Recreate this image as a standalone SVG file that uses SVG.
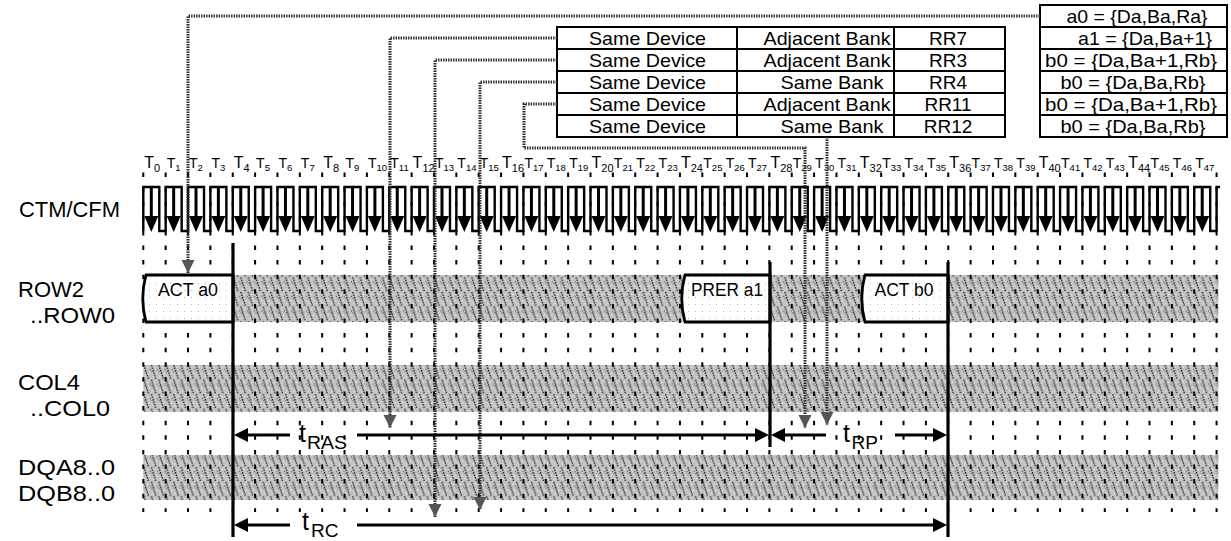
<svg xmlns="http://www.w3.org/2000/svg" xmlns:xlink="http://www.w3.org/1999/xlink" width="1231" height="541" viewBox="0 0 1231 541">
<style>
text{font-family:"Liberation Sans",Arial,sans-serif;fill:#000}
.tb{font-size:16px}.ts{font-size:14px}.s1{font-size:11px}.s2{font-size:9.5px}
.lab{font-size:22px}
.tt{font-size:19px}
.bt{font-size:18px}
.ctr{text-anchor:middle}
.grid{fill:none;stroke:#000;stroke-width:2}
.tick{fill:none;stroke:#000;stroke-width:2;stroke-dasharray:4.5 10.1}
.bold{stroke:#000;stroke-width:3.2;fill:none}
.conn{fill:none;stroke:#2a2a2a;stroke-width:3;stroke-dasharray:1.4 1.1}
.tline{stroke:#000;stroke-width:3.2}
.box{fill:url(#lt);stroke:#000;stroke-width:2.8}
</style>
<defs>
<pattern id="st" patternUnits="userSpaceOnUse" x="143.3" y="0" width="7.453" height="14.6">
<rect width="7.453" height="14.6" fill="#c2c2c2"/>
<path d="M0.6,0 L5.4,14.6" stroke="#111" stroke-width="1.3" stroke-dasharray="1.4 1.2"/>
<rect x="3.5" y="2" width="1" height="1" fill="#fff"/>
<rect x="5.5" y="8" width="1" height="1" fill="#fff"/>
<rect x="6.5" y="4" width="1" height="1" fill="#444"/>
<rect x="1.5" y="11" width="1" height="1" fill="#fff"/>
<rect x="0.5" y="6" width="1" height="1" fill="#555"/>
</pattern>
<pattern id="lt" patternUnits="userSpaceOnUse" width="7" height="7">
<rect width="7" height="7" fill="#fff"/>
<rect x="2" y="3" width="1" height="1" fill="#bbb"/>
</pattern>
<marker id="dh" markerUnits="userSpaceOnUse" markerWidth="14" markerHeight="14" refX="13" refY="6.5" orient="auto">
<path d="M0,0 L13,6.5 L0,13 Z" fill="#555"/>
</marker>
<g id="ca"><line x1="8" y1="187" x2="8" y2="218" stroke="#000" stroke-width="3"/><path d="M1,216 L15,216 L8,232 Z" fill="#000"/></g>
</defs>
<rect width="1231" height="541" fill="#fff"/>

<g id="labels">
<text class="lab" x="19" y="217" textLength="101" lengthAdjust="spacingAndGlyphs">CTM/CFM</text>
<text class="lab" x="18" y="297" textLength="66" lengthAdjust="spacingAndGlyphs">ROW2</text>
<text class="lab" x="30" y="323" textLength="85" lengthAdjust="spacingAndGlyphs">..ROW0</text>
<text class="lab" x="18" y="390" textLength="62" lengthAdjust="spacingAndGlyphs">COL4</text>
<text class="lab" x="30" y="416" textLength="80" lengthAdjust="spacingAndGlyphs">..COL0</text>
<text class="lab" x="18" y="475" textLength="97" lengthAdjust="spacingAndGlyphs">DQA8..0</text>
<text class="lab" x="18" y="501" textLength="97" lengthAdjust="spacingAndGlyphs">DQB8..0</text>
</g>

<g id="time-labels">
<text class="tb" x="144.3" y="168">T<tspan class="s1" dy="3.7">0</tspan></text>
<text class="ts" x="166.66" y="168">T<tspan class="s2" dy="3">1</tspan></text>
<text class="ts" x="189.02" y="168">T<tspan class="s2" dy="3">2</tspan></text>
<text class="ts" x="211.38" y="168">T<tspan class="s2" dy="3">3</tspan></text>
<text class="tb" x="233.74" y="168">T<tspan class="s1" dy="3.7">4</tspan></text>
<text class="ts" x="256.1" y="168">T<tspan class="s2" dy="3">5</tspan></text>
<text class="ts" x="278.46" y="168">T<tspan class="s2" dy="3">6</tspan></text>
<text class="ts" x="300.82" y="168">T<tspan class="s2" dy="3">7</tspan></text>
<text class="tb" x="323.18" y="168">T<tspan class="s1" dy="3.7">8</tspan></text>
<text class="ts" x="345.54" y="168">T<tspan class="s2" dy="3">9</tspan></text>
<text class="ts" x="367.9" y="168">T<tspan class="s2" dy="3">10</tspan></text>
<text class="ts" x="390.26" y="168">T<tspan class="s2" dy="3">11</tspan></text>
<text class="tb" x="412.62" y="168">T<tspan class="s1" dy="3.7">12</tspan></text>
<text class="ts" x="434.98" y="168">T<tspan class="s2" dy="3">13</tspan></text>
<text class="ts" x="457.34" y="168">T<tspan class="s2" dy="3">14</tspan></text>
<text class="ts" x="479.7" y="168">T<tspan class="s2" dy="3">15</tspan></text>
<text class="tb" x="502.06" y="168">T<tspan class="s1" dy="3.7">16</tspan></text>
<text class="ts" x="524.42" y="168">T<tspan class="s2" dy="3">17</tspan></text>
<text class="ts" x="546.78" y="168">T<tspan class="s2" dy="3">18</tspan></text>
<text class="ts" x="569.14" y="168">T<tspan class="s2" dy="3">19</tspan></text>
<text class="tb" x="591.5" y="168">T<tspan class="s1" dy="3.7">20</tspan></text>
<text class="ts" x="613.86" y="168">T<tspan class="s2" dy="3">21</tspan></text>
<text class="ts" x="636.22" y="168">T<tspan class="s2" dy="3">22</tspan></text>
<text class="ts" x="658.58" y="168">T<tspan class="s2" dy="3">23</tspan></text>
<text class="tb" x="680.94" y="168">T<tspan class="s1" dy="3.7">24</tspan></text>
<text class="ts" x="703.3" y="168">T<tspan class="s2" dy="3">25</tspan></text>
<text class="ts" x="725.66" y="168">T<tspan class="s2" dy="3">26</tspan></text>
<text class="ts" x="748.02" y="168">T<tspan class="s2" dy="3">27</tspan></text>
<text class="tb" x="770.38" y="168">T<tspan class="s1" dy="3.7">28</tspan></text>
<text class="ts" x="792.74" y="168">T<tspan class="s2" dy="3">29</tspan></text>
<text class="ts" x="815.1" y="168">T<tspan class="s2" dy="3">30</tspan></text>
<text class="ts" x="837.46" y="168">T<tspan class="s2" dy="3">31</tspan></text>
<text class="tb" x="859.82" y="168">T<tspan class="s1" dy="3.7">32</tspan></text>
<text class="ts" x="882.18" y="168">T<tspan class="s2" dy="3">33</tspan></text>
<text class="ts" x="904.54" y="168">T<tspan class="s2" dy="3">34</tspan></text>
<text class="ts" x="926.9" y="168">T<tspan class="s2" dy="3">35</tspan></text>
<text class="tb" x="949.26" y="168">T<tspan class="s1" dy="3.7">36</tspan></text>
<text class="ts" x="971.62" y="168">T<tspan class="s2" dy="3">37</tspan></text>
<text class="ts" x="993.98" y="168">T<tspan class="s2" dy="3">38</tspan></text>
<text class="ts" x="1016.34" y="168">T<tspan class="s2" dy="3">39</tspan></text>
<text class="tb" x="1038.7" y="168">T<tspan class="s1" dy="3.7">40</tspan></text>
<text class="ts" x="1061.06" y="168">T<tspan class="s2" dy="3">41</tspan></text>
<text class="ts" x="1083.42" y="168">T<tspan class="s2" dy="3">42</tspan></text>
<text class="ts" x="1105.78" y="168">T<tspan class="s2" dy="3">43</tspan></text>
<text class="tb" x="1128.14" y="168">T<tspan class="s1" dy="3.7">44</tspan></text>
<text class="ts" x="1150.5" y="168">T<tspan class="s2" dy="3">45</tspan></text>
<text class="ts" x="1172.86" y="168">T<tspan class="s2" dy="3">46</tspan></text>
<text class="ts" x="1195.22" y="168">T<tspan class="s2" dy="3">47</tspan></text>
</g>

<g id="row-band"><rect x="143.3" y="275" width="1075" height="47" fill="url(#st)"/></g>
<g id="col-band"><rect x="143.3" y="365" width="1075" height="47" fill="url(#st)"/></g>
<g id="dq-band"><rect x="143.3" y="455" width="1075" height="45" fill="url(#st)"/></g>

<g id="ticks">
<path class="tick" d="M143.3,172.5V512M165.66,172.5V512M188.02,172.5V512M210.38,172.5V512M232.74,172.5V512M255.1,172.5V512M277.46,172.5V512M299.82,172.5V512M322.18,172.5V512M344.54,172.5V512M366.9,172.5V512M389.26,172.5V512M411.62,172.5V512M433.98,172.5V512M456.34,172.5V512M478.7,172.5V512M501.06,172.5V512M523.42,172.5V512M545.78,172.5V512M568.14,172.5V512M590.5,172.5V512M612.86,172.5V512M635.22,172.5V512M657.58,172.5V512M679.94,172.5V512M702.3,172.5V512M724.66,172.5V512M747.02,172.5V512M769.38,172.5V512M791.74,172.5V512M814.1,172.5V512M836.46,172.5V512M858.82,172.5V512M881.18,172.5V512M903.54,172.5V512M925.9,172.5V512M948.26,172.5V512M970.62,172.5V512M992.98,172.5V512M1015.34,172.5V512M1037.7,172.5V512M1060.06,172.5V512M1082.42,172.5V512M1104.78,172.5V512M1127.14,172.5V512M1149.5,172.5V512M1171.86,172.5V512M1194.22,172.5V512M1216.58,172.5V512"/>
</g>

<g id="clock">
<path fill="none" stroke="#000" stroke-width="2.4" d="M143.3,231 V187 H159.3 V231 H165.66 V187 H181.66 V231 H188.02 V187 H204.02 V231 H210.38 V187 H226.38 V231 H232.74 V187 H248.74 V231 H255.1 V187 H271.1 V231 H277.46 V187 H293.46 V231 H299.82 V187 H315.82 V231 H322.18 V187 H338.18 V231 H344.54 V187 H360.54 V231 H366.9 V187 H382.9 V231 H389.26 V187 H405.26 V231 H411.62 V187 H427.62 V231 H433.98 V187 H449.98 V231 H456.34 V187 H472.34 V231 H478.7 V187 H494.7 V231 H501.06 V187 H517.06 V231 H523.42 V187 H539.42 V231 H545.78 V187 H561.78 V231 H568.14 V187 H584.14 V231 H590.5 V187 H606.5 V231 H612.86 V187 H628.86 V231 H635.22 V187 H651.22 V231 H657.58 V187 H673.58 V231 H679.94 V187 H695.94 V231 H702.3 V187 H718.3 V231 H724.66 V187 H740.66 V231 H747.02 V187 H763.02 V231 H769.38 V187 H785.38 V231 H791.74 V187 H807.74 V231 H814.1 V187 H830.1 V231 H836.46 V187 H852.46 V231 H858.82 V187 H874.82 V231 H881.18 V187 H897.18 V231 H903.54 V187 H919.54 V231 H925.9 V187 H941.9 V231 H948.26 V187 H964.26 V231 H970.62 V187 H986.62 V231 H992.98 V187 H1008.98 V231 H1015.34 V187 H1031.34 V231 H1037.7 V187 H1053.7 V231 H1060.06 V187 H1076.06 V231 H1082.42 V187 H1098.42 V231 H1104.78 V187 H1120.78 V231 H1127.14 V187 H1143.14 V231 H1149.5 V187 H1165.5 V231 H1171.86 V187 H1187.86 V231 H1194.22 V187 H1210.22 V231 H1216.58 V187 H1220"/>
<use xlink:href="#ca" x="143.3"/><use xlink:href="#ca" x="165.66"/><use xlink:href="#ca" x="188.02"/><use xlink:href="#ca" x="210.38"/><use xlink:href="#ca" x="232.74"/><use xlink:href="#ca" x="255.1"/><use xlink:href="#ca" x="277.46"/><use xlink:href="#ca" x="299.82"/><use xlink:href="#ca" x="322.18"/><use xlink:href="#ca" x="344.54"/><use xlink:href="#ca" x="366.9"/><use xlink:href="#ca" x="389.26"/><use xlink:href="#ca" x="411.62"/><use xlink:href="#ca" x="433.98"/><use xlink:href="#ca" x="456.34"/><use xlink:href="#ca" x="478.7"/><use xlink:href="#ca" x="501.06"/><use xlink:href="#ca" x="523.42"/><use xlink:href="#ca" x="545.78"/><use xlink:href="#ca" x="568.14"/><use xlink:href="#ca" x="590.5"/><use xlink:href="#ca" x="612.86"/><use xlink:href="#ca" x="635.22"/><use xlink:href="#ca" x="657.58"/><use xlink:href="#ca" x="679.94"/><use xlink:href="#ca" x="702.3"/><use xlink:href="#ca" x="724.66"/><use xlink:href="#ca" x="747.02"/><use xlink:href="#ca" x="769.38"/><use xlink:href="#ca" x="791.74"/><use xlink:href="#ca" x="814.1"/><use xlink:href="#ca" x="836.46"/><use xlink:href="#ca" x="858.82"/><use xlink:href="#ca" x="881.18"/><use xlink:href="#ca" x="903.54"/><use xlink:href="#ca" x="925.9"/><use xlink:href="#ca" x="948.26"/><use xlink:href="#ca" x="970.62"/><use xlink:href="#ca" x="992.98"/><use xlink:href="#ca" x="1015.34"/><use xlink:href="#ca" x="1037.7"/><use xlink:href="#ca" x="1060.06"/><use xlink:href="#ca" x="1082.42"/><use xlink:href="#ca" x="1104.78"/><use xlink:href="#ca" x="1127.14"/><use xlink:href="#ca" x="1149.5"/><use xlink:href="#ca" x="1171.86"/><use xlink:href="#ca" x="1194.22"/>
</g>

<g id="act-a0">
<path class="box" d="M233,275 H146 Q139.5,298.5 146,322 H233 Z"/>
<text class="bt ctr" x="188" y="296" textLength="60" lengthAdjust="spacingAndGlyphs">ACT a0</text>
</g>
<g id="prer-a1">
<path class="box" d="M770,275 H685 Q678.5,298.5 685,322 H770 Z"/>
<text class="bt ctr" x="727" y="296" textLength="72" lengthAdjust="spacingAndGlyphs">PRER a1</text>
</g>
<g id="act-b0">
<path class="box" d="M948,275 H865 Q858.5,298.5 865,322 H948 Z"/>
<text class="bt ctr" x="904" y="296" textLength="59" lengthAdjust="spacingAndGlyphs">ACT b0</text>
</g>

<g id="table-left">
<rect class="grid" x="557" y="27" width="448" height="110" fill="#fff"/>
<path class="grid" d="M557,49H1005M557,71H1005M557,93H1005M557,115H1005M737,27V137M894,27V137"/>
<g id="rr7"><text class="tt ctr" x="647.5" y="44.5" textLength="117" lengthAdjust="spacingAndGlyphs">Same Device</text><text class="tt ctr" x="827" y="44.5" textLength="127" lengthAdjust="spacingAndGlyphs">Adjacent Bank</text><text class="tt ctr" x="948" y="44.5">RR7</text></g>
<g id="rr3"><text class="tt ctr" x="647.5" y="66.5" textLength="117" lengthAdjust="spacingAndGlyphs">Same Device</text><text class="tt ctr" x="827" y="66.5" textLength="127" lengthAdjust="spacingAndGlyphs">Adjacent Bank</text><text class="tt ctr" x="948" y="66.5">RR3</text></g>
<g id="rr4"><text class="tt ctr" x="647.5" y="88.5" textLength="117" lengthAdjust="spacingAndGlyphs">Same Device</text><text class="tt ctr" x="832" y="88.5" textLength="103" lengthAdjust="spacingAndGlyphs">Same Bank</text><text class="tt ctr" x="948" y="88.5">RR4</text></g>
<g id="rr11"><text class="tt ctr" x="647.5" y="110.5" textLength="117" lengthAdjust="spacingAndGlyphs">Same Device</text><text class="tt ctr" x="827" y="110.5" textLength="127" lengthAdjust="spacingAndGlyphs">Adjacent Bank</text><text class="tt ctr" x="948" y="110.5">RR11</text></g>
<g id="rr12"><text class="tt ctr" x="647.5" y="132.5" textLength="117" lengthAdjust="spacingAndGlyphs">Same Device</text><text class="tt ctr" x="832" y="132.5" textLength="103" lengthAdjust="spacingAndGlyphs">Same Bank</text><text class="tt ctr" x="948" y="132.5">RR12</text></g>
</g>

<g id="table-right">
<rect class="grid" x="1040" y="5" width="187" height="132" fill="#fff"/>
<path class="grid" d="M1040,27H1227M1040,49H1227M1040,71H1227M1040,93H1227M1040,115H1227"/>
<text class="tt ctr" x="1137" y="22.5" textLength="141" lengthAdjust="spacingAndGlyphs">a0 = {Da,Ba,Ra}</text>
<text class="tt ctr" x="1145" y="44.5" textLength="134" lengthAdjust="spacingAndGlyphs">a1 = {Da,Ba+1}</text>
<text class="tt ctr" x="1131" y="66.5" textLength="172" lengthAdjust="spacingAndGlyphs">b0 = {Da,Ba+1,Rb}</text>
<text class="tt ctr" x="1133" y="88.5" textLength="145" lengthAdjust="spacingAndGlyphs">b0 = {Da,Ba,Rb}</text>
<text class="tt ctr" x="1131" y="110.5" textLength="172" lengthAdjust="spacingAndGlyphs">b0 = {Da,Ba+1,Rb}</text>
<text class="tt ctr" x="1133" y="132.5" textLength="145" lengthAdjust="spacingAndGlyphs">b0 = {Da,Ba,Rb}</text>
</g>

<g id="bold-lines">
<line class="bold" x1="233" y1="243" x2="233" y2="537"/>
<line class="bold" x1="770" y1="262" x2="770" y2="447"/>
<line class="bold" x1="948" y1="262" x2="948" y2="537"/>
</g>

<g id="connectors">
<path class="conn" marker-end="url(#dh)" d="M1040,16 H188 V273"/>
<path class="conn" marker-end="url(#dh)" d="M557,38 H390 V428"/>
<path class="conn" marker-end="url(#dh)" d="M557,60 H435 V517"/>
<path class="conn" marker-end="url(#dh)" d="M557,82 H480 V510"/>
<path class="conn" marker-end="url(#dh)" d="M557,104 H524 V148 H805 V428"/>
<path class="conn" marker-end="url(#dh)" d="M827,137 V425"/>
</g>

<g id="timing">
<g id="t-ras">
<polygon points="234,435 248,428 248,442"/>
<line class="tline" x1="247" y1="435" x2="290" y2="435"/>
<line class="tline" x1="357" y1="435" x2="756" y2="435"/>
<polygon points="769,435 755,428 755,442"/>
<text x="299" y="442" font-size="25">t</text>
<text x="307" y="449" font-size="19" textLength="40" lengthAdjust="spacingAndGlyphs">RAS</text>
</g>
<g id="t-rp">
<polygon points="771,435 785,428 785,442"/>
<line class="tline" x1="784" y1="435" x2="826" y2="435"/>
<line class="tline" x1="895" y1="435" x2="934" y2="435"/>
<polygon points="947,435 933,428 933,442"/>
<text x="843" y="442" font-size="25">t</text>
<text x="851.5" y="449" font-size="19">RP</text>
</g>
<g id="t-rc">
<polygon points="234,525 248,518 248,532"/>
<line class="tline" x1="247" y1="525" x2="290" y2="525"/>
<line class="tline" x1="357" y1="525" x2="934" y2="525"/>
<polygon points="947,525 933,518 933,532"/>
<text x="302" y="530" font-size="25">t</text>
<text x="311" y="537" font-size="19">RC</text>
</g>
</g>
</svg>
